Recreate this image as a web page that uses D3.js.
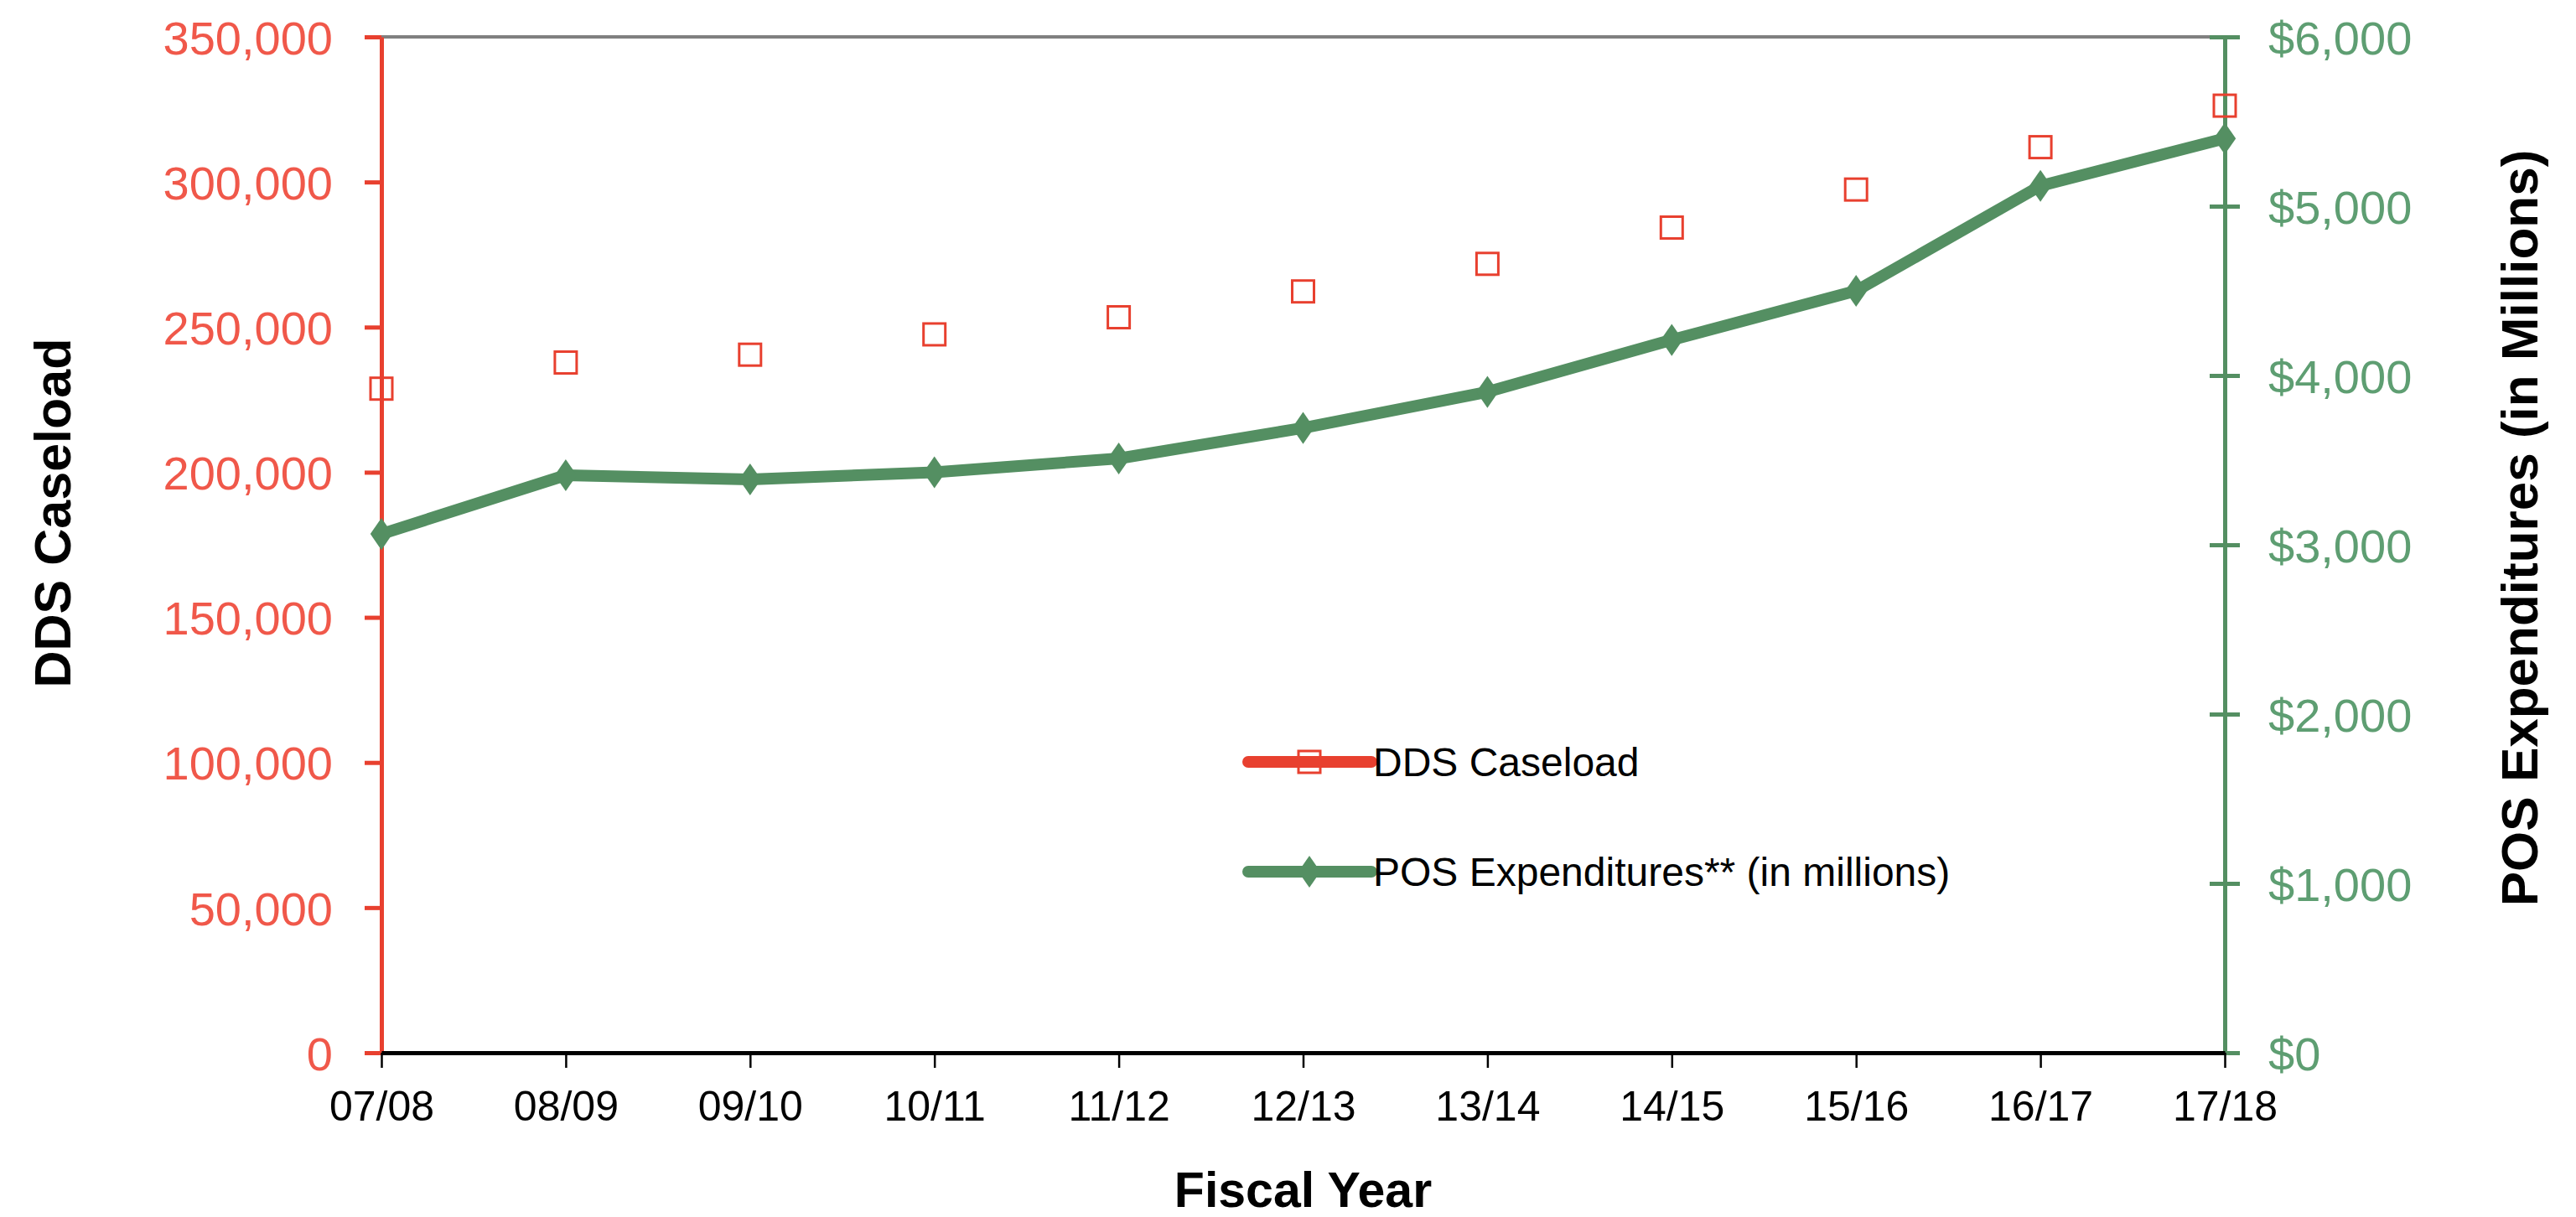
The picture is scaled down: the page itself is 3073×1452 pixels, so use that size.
<!DOCTYPE html>
<html>
<head>
<meta charset="utf-8">
<script src="https://cdn.jsdelivr.net/npm/d3@7"></script>
<style>
  html, body { margin: 0; padding: 0; background: #ffffff; }
  svg { display: block; font-family: "Liberation Sans", Arial, sans-serif; }
</style>
</head>
<body>
<svg id="chart" width="3073" height="1452"></svg>
<script>
// ---- Data ----
const fiscalYears = ["07/08", "08/09", "09/10", "10/11", "11/12", "12/13", "13/14", "14/15", "15/16", "16/17", "17/18"];
const ddsCaseload = [228800, 237800, 240500, 247500, 253400, 262300, 271800, 284300, 297400, 312000, 326300];
const posExpenditures = [3064, 3411, 3386, 3428, 3510, 3690, 3903, 4210, 4500, 5120, 5400];
const leftTicks = [0, 50000, 100000, 150000, 200000, 250000, 300000, 350000];
const rightTicks = [0, 1000, 2000, 3000, 4000, 5000, 6000];
const seriesNames = ["DDS Caseload", "POS Expenditures** (in millions)"];

// ---- Layout ----
const plot = { left: 455, right: 2654, top: 44, bottom: 1256 };
const RED = "#E8402F", RED_TXT = "#F0584A";
const GREEN = "#548F62", GREEN_TXT = "#5E9E72";

const svg = d3.select("#chart");

const x = d3.scalePoint().domain(fiscalYears).range([plot.left, plot.right]).padding(0);
const yL = d3.scaleLinear().domain([0, 350000]).range([plot.bottom, plot.top]);
const yR = d3.scaleLinear().domain([0, 6000]).range([plot.bottom, plot.top]);

// top border
svg.append("line")
  .attr("x1", plot.left).attr("x2", plot.right)
  .attr("y1", plot.top).attr("y2", plot.top)
  .attr("stroke", "#808080").attr("stroke-width", 4);

// Left axis
const gL = svg.append("g").attr("transform", `translate(${plot.left},0)`)
  .call(d3.axisLeft(yL).tickValues(leftTicks).tickSize(20).tickSizeOuter(0).tickFormat(d3.format(",")));
gL.select(".domain").attr("stroke", RED).attr("stroke-width", 5);
gL.selectAll(".tick line").attr("stroke", RED).attr("stroke-width", 5);
gL.selectAll(".tick text")
  .attr("x", -58).attr("dy", "0.36em")
  .attr("fill", RED_TXT).attr("font-size", 56)
  .attr("font-family", "'Liberation Sans', Arial, sans-serif");

// Right axis
const gR = svg.append("g").attr("transform", `translate(${plot.right},0)`)
  .call(d3.axisRight(yR).tickValues(rightTicks).tickSize(18).tickSizeOuter(0).tickFormat(d => "$" + d3.format(",")(d)));
gR.select(".domain").attr("stroke", GREEN).attr("stroke-width", 5);
gR.selectAll(".tick line").attr("x1", -18).attr("x2", 18).attr("stroke", GREEN).attr("stroke-width", 5);
gR.selectAll(".tick text")
  .attr("x", 52).attr("dy", "0.36em")
  .attr("fill", GREEN_TXT).attr("font-size", 56)
  .attr("font-family", "'Liberation Sans', Arial, sans-serif");

// Bottom axis
const gB = svg.append("g").attr("transform", `translate(0,${plot.bottom})`)
  .call(d3.axisBottom(x).tickSize(18).tickSizeOuter(0));
gB.select(".domain").attr("stroke", "#000").attr("stroke-width", 5);
gB.selectAll(".tick line").attr("stroke", "#000").attr("stroke-width", 2.5);
gB.selectAll(".tick text")
  .attr("y", 81).attr("dy", 0)
  .attr("fill", "#000").attr("font-size", 50)
  .attr("font-family", "'Liberation Sans', Arial, sans-serif");

// Axis titles
svg.append("text")
  .attr("transform", `translate(84,612) rotate(-90)`)
  .attr("text-anchor", "middle")
  .attr("font-size", 61).attr("font-weight", "bold").attr("fill", "#000")
  .text("DDS Caseload");

svg.append("text")
  .attr("transform", `translate(3027,630) rotate(-90)`)
  .attr("text-anchor", "middle")
  .attr("font-size", 62).attr("font-weight", "bold").attr("fill", "#000")
  .text("POS Expenditures (in Millions)");

svg.append("text")
  .attr("x", (plot.left + plot.right) / 2).attr("y", 1440)
  .attr("text-anchor", "middle")
  .attr("font-size", 59).attr("font-weight", "bold").attr("fill", "#000")
  .text("Fiscal Year");

// POS line
const line = d3.line().x((d, i) => x(fiscalYears[i])).y(d => yR(d));
svg.append("path")
  .datum(posExpenditures)
  .attr("d", line)
  .attr("fill", "none").attr("stroke", GREEN).attr("stroke-width", 14)
  .attr("stroke-linejoin", "round");

const diamond = d3.symbol().type(d3.symbolDiamond).size(420);
svg.append("g").selectAll("path")
  .data(posExpenditures)
  .join("path")
  .attr("d", diamond)
  .attr("transform", (d, i) => `translate(${x(fiscalYears[i])},${yR(d)}) scale(1.2,1)`)
  .attr("fill", GREEN);

// Caseload squares
const sq = 26;
svg.append("g").selectAll("rect")
  .data(ddsCaseload)
  .join("rect")
  .attr("x", (d, i) => x(fiscalYears[i]) - sq / 2)
  .attr("y", d => yL(d) - sq / 2)
  .attr("width", sq).attr("height", sq)
  .attr("fill", "none").attr("stroke", RED).attr("stroke-width", 3);

// Legend
const legend = svg.append("g");
const lx1 = 1489, lx2 = 1636, lmx = 1562;
const ly = [909, 1040];
legend.append("line").attr("x1", lx1).attr("x2", lx2).attr("y1", ly[0]).attr("y2", ly[0])
  .attr("stroke", RED).attr("stroke-width", 14).attr("stroke-linecap", "round");
legend.append("rect").attr("x", lmx - sq / 2).attr("y", ly[0] - sq / 2).attr("width", sq).attr("height", sq)
  .attr("fill", "none").attr("stroke", RED).attr("stroke-width", 3);
legend.append("text").attr("x", 1638).attr("y", ly[0]).attr("dy", "0.36em")
  .attr("font-size", 48).attr("fill", "#000").text(seriesNames[0]);
legend.append("line").attr("x1", lx1).attr("x2", lx2).attr("y1", ly[1]).attr("y2", ly[1])
  .attr("stroke", GREEN).attr("stroke-width", 14).attr("stroke-linecap", "round");
legend.append("path").attr("d", diamond)
  .attr("transform", `translate(${lmx},${ly[1]}) scale(1.2,1)`).attr("fill", GREEN);
legend.append("text").attr("x", 1638).attr("y", ly[1]).attr("dy", "0.36em")
  .attr("font-size", 48).attr("fill", "#000").text(seriesNames[1]);
</script>
</body>
</html>
